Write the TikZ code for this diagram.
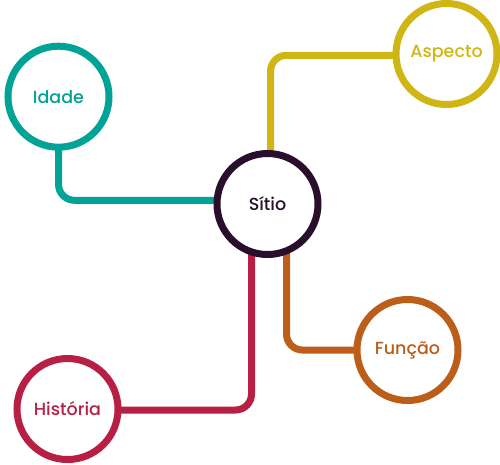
\documentclass[tikz,border=0pt]{standalone}
\usepackage{fontspec}
\setmainfont{Poppins Medium}
\definecolor{cTeal}{HTML}{00A396}
\definecolor{cYel}{HTML}{CFB614}
\definecolor{cOra}{HTML}{BB5E1A}
\definecolor{cRed}{HTML}{B71F44}
\definecolor{cDark}{HTML}{2A0F2C}
\tikzset{
  bubble/.style={circle, draw=#1, text=#1, fill=white, line width=7pt, inner sep=0pt, minimum size=101pt, font=\fontsize{17.5}{19}\selectfont},
  link/.style={draw=#1, line width=7pt, rounded corners=16pt}
}
\begin{document}
\begin{tikzpicture}[x=1pt,y=-1pt]
\useasboundingbox (0,0) rectangle (500,464);
\coordinate (sc) at (267.5,204);
\coordinate (ic) at (58.5,96.7);
\coordinate (ac) at (446.5,54);
\coordinate (fc) at (407.5,350);
\coordinate (hc) at (67.5,409);
\draw[link=cTeal] (ic) |- ([yshift=3.7pt]sc);
\draw[link=cYel] ([xshift=3pt]sc) |- ([yshift=-1.3pt]ac);
\draw[link=cOra] ([xshift=19pt]sc) |- (fc);
\draw[link=cRed] ([xshift=-16pt]sc) |- ([yshift=-1pt]hc);
\node[bubble=cDark] (sitio) at (sc) {Sítio};
\node[bubble=cTeal] (idade) at (ic) {Idade};
\node[bubble=cYel] (aspecto) at (ac) {Aspecto};
\node[bubble=cOra] (funcao) at (fc) {Função};
\node[bubble=cRed] (historia) at (hc) {História};
\end{tikzpicture}
\end{document}
